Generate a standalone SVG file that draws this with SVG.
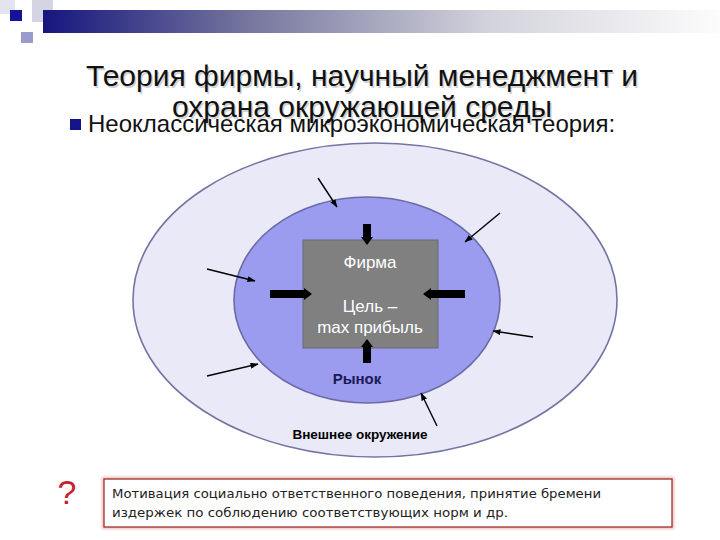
<svg xmlns="http://www.w3.org/2000/svg" width="720" height="540" viewBox="0 0 720 540">
  <defs>
    <linearGradient id="band" x1="0" y1="0" x2="1" y2="0">
      <stop offset="0" stop-color="#16167e"/>
      <stop offset="0.3" stop-color="#75759e"/>
      <stop offset="0.66" stop-color="#d3d3dc"/>
      <stop offset="1" stop-color="#fcfcfc"/>
    </linearGradient>
    <marker id="ah" markerUnits="userSpaceOnUse" markerWidth="8" markerHeight="6" refX="7.5" refY="3" orient="auto">
      <path d="M0,0 L8,3 L0,6 z" fill="#000"/>
    </marker>
    <filter id="soft" x="-5%" y="-20%" width="110%" height="140%">
      <feGaussianBlur stdDeviation="1.5"/>
    </filter>
  </defs>
  <style>
    .title { font-family: "Liberation Sans", Arial, sans-serif; font-size: 30px; text-anchor: middle; }
    .sub { font-family: "Liberation Sans", Arial, sans-serif; font-size: 24px; fill: #111; }
    .inbox { font-family: "Liberation Sans", Arial, sans-serif; font-size: 17px; fill: #fff; text-anchor: middle; }
    .lbl { font-family: "Liberation Sans", Arial, sans-serif; font-weight: bold; text-anchor: middle; }
    .note { font-family: "DejaVu Sans", "Liberation Sans", sans-serif; font-size: 13px; fill: #222; }
    .thin { stroke: #000; stroke-width: 1.4; fill: none; marker-end: url(#ah); }
    .block { fill: #000; }
  </style>
  <rect width="720" height="540" fill="#fff"/>

  <g id="decoration">
    <rect x="0" y="0" width="15" height="14" fill="#e4e4ee"/>
    <rect x="32" y="0" width="21" height="22" fill="#d4d4e2"/>
    <rect x="43" y="10" width="677" height="23" fill="url(#band)"/>
    <rect x="10" y="10" width="12" height="11" fill="#14149a"/>
    <rect x="21" y="32" width="12" height="11" fill="#9a9acc"/>
  </g>

  <g id="title">
    <text class="title" x="363.5" y="87.5" fill="#d2d2d2">Теория фирмы, научный менеджмент и</text>
    <text class="title" x="363.5" y="118.5" fill="#d2d2d2">охрана окружающей среды</text>
    <text class="title" x="362" y="86" fill="#111">Теория фирмы, научный менеджмент и</text>
    <text class="title" x="362" y="117" fill="#111">охрана окружающей среды</text>
  </g>

  <g id="subtitle">
    <rect x="70" y="119" width="11" height="11" fill="#14148a"/>
    <text class="sub" x="88" y="132">Неоклассическая микроэкономическая теория:</text>
  </g>

  <g id="outer-environment">
    <ellipse cx="375" cy="300" rx="242" ry="157" fill="#e9e9f8" stroke="#7474a4" stroke-width="1.6"/>
    <text class="lbl" x="360" y="439" font-size="13.5" fill="#000">Внешнее окружение</text>
  </g>

  <g id="market">
    <ellipse cx="367" cy="300" rx="133" ry="103" fill="#9b9bf0" stroke="#6a6aa6" stroke-width="1.6"/>
    <text class="lbl" x="357" y="384" font-size="15" fill="#1a1a55">Рынок</text>
  </g>

  <g id="firm">
    <rect x="303" y="240" width="135" height="108" fill="#808080" stroke="#6a6a6a" stroke-width="1"/>
    <text class="inbox" x="370" y="268">Фирма</text>
    <text class="inbox" x="370" y="312">Цель –</text>
    <text class="inbox" x="370" y="333">max прибыль</text>
  </g>

  <g id="connectors">
    <polygon class="block" points="363,224 371,224 371,237 373,237 367,245 361,237 363,237"/>
    <polygon class="block" points="270,290 270,298 304,298 304,300 312,294 304,288 304,290"/>
    <polygon class="block" points="465,290 465,298 431,298 431,300 423,294 431,288 431,290"/>
    <polygon class="block" points="363,363 371,363 371,347 373,347 367,339 361,347 363,347"/>
    <line class="thin" x1="318" y1="178" x2="337" y2="207"/>
    <line class="thin" x1="500" y1="213" x2="465" y2="242"/>
    <line class="thin" x1="207" y1="269" x2="255" y2="281"/>
    <line class="thin" x1="533" y1="337" x2="493" y2="331"/>
    <line class="thin" x1="207" y1="376" x2="258" y2="364"/>
    <line class="thin" x1="437" y1="426" x2="421" y2="393"/>
  </g>

  <g id="question">
    <text x="67" y="504" font-family="'Liberation Sans', Arial, sans-serif" font-size="34" fill="#c8202e" text-anchor="middle">?</text>
  </g>

  <g id="note">
    <rect x="104" y="479" width="568" height="48" fill="none" stroke="#f0b8b8" stroke-width="4" filter="url(#soft)"/>
    <rect x="104" y="479" width="568" height="48" fill="#fff" stroke="#9c3030" stroke-width="1.3"/>
    <text class="note" x="112" y="498" textLength="489" lengthAdjust="spacingAndGlyphs">Мотивация социально ответственного поведения, принятие бремени</text>
    <text class="note" x="112" y="517" textLength="396" lengthAdjust="spacingAndGlyphs">издержек по соблюдению соответствующих норм и др.</text>
  </g>
</svg>
